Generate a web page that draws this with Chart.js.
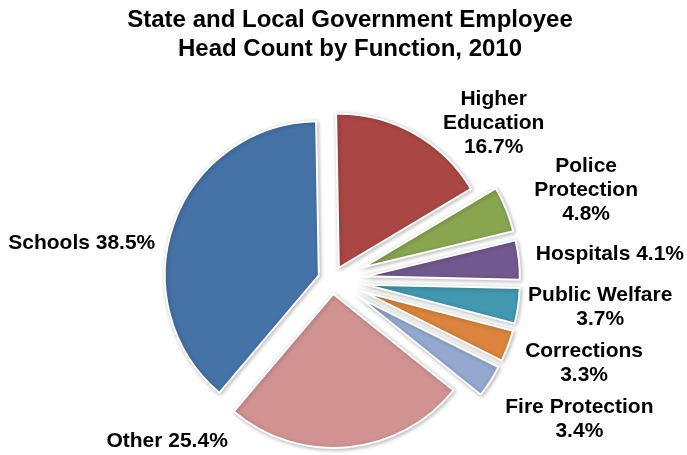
<!DOCTYPE html>
<html>
<head>
<meta charset="utf-8">
<title>State and Local Government Employee Head Count by Function, 2010</title>
<script src="https://cdn.jsdelivr.net/npm/chart.js@4.4.1/dist/chart.umd.min.js"></script>
<style>
    html, body { margin: 0; padding: 0; background: #ffffff; }
    canvas { display: block; }
</style>
</head>
<body>
<canvas id="headCountChart" width="687" height="455"></canvas>
<script>
// 数据（顺时针，从12点方向开始）
const functions = ['Higher Education', 'Police Protection', 'Hospitals', 'Public Welfare',
    'Corrections', 'Fire Protection', 'Other', 'Schools'];
const shares = [16.7, 4.8, 4.1, 3.7, 3.3, 3.4, 25.4, 38.5];
const labelLines = [['Higher', 'Education'], ['Police', 'Protection'], ['Hospitals'], ['Public Welfare'],
    ['Corrections'], ['Fire Protection'], ['Other'], ['Schools']];
const valueInline = [false, false, true, false, false, false, true, true]; // 百分比是否跟在名称同一行
const titleLines = ['State and Local Government Employee', 'Head Count by Function, 2010'];

// 样式
const sliceColors = ['#AA4643', '#89A54E', '#71588F', '#4198AF', '#DB843D', '#93A9CF', '#D19392', '#4572A7'];
const explode = [14, 34, 34, 34, 34, 34, 14, 14]; // 每块扇形向外分离的距离
const labelNudge = [[80, -12], [80, -21], [91, -7], [82, 0], [76, 16], [89, 36], [-181, -8], [-92, 18]];

const FONT = '"Liberation Sans", Arial, sans-serif';

// 扇形分离：绘制前把每个扇形沿中线方向平移，画完再还原
const explodePlugin = {
    id: 'explodeSlices',
    beforeDatasetsDraw(chart) {
        const ctx = chart.ctx;
        ctx.save();
        ctx.shadowColor = 'rgba(0, 0, 0, 0.28)'; // 淡淡的阴影
        ctx.shadowBlur = 4;
        ctx.shadowOffsetX = 1;
        ctx.shadowOffsetY = 1;
        chart.getDatasetMeta(0).data.forEach((arc, i) => {
            const mid = (arc.startAngle + arc.endAngle) / 2;
            arc._baseX = arc.x;
            arc._baseY = arc.y;
            arc.x += Math.cos(mid) * explode[i];
            arc.y += Math.sin(mid) * explode[i];
        });
    },
    afterDatasetsDraw(chart) {
        chart.ctx.restore();
        chart.getDatasetMeta(0).data.forEach(arc => {
            arc.x = arc._baseX;
            arc.y = arc._baseY;
        });
    }
};

// 标题和数据标签
const labelPlugin = {
    id: 'pieLabels',
    afterDraw(chart) {
        const ctx = chart.ctx;
        ctx.save();
        ctx.fillStyle = '#000000';
        ctx.textAlign = 'center';
        ctx.textBaseline = 'alphabetic';

        ctx.font = 'bold 24px ' + FONT;
        ctx.fillText(titleLines[0], 350, 27);
        ctx.fillText(titleLines[1], 350, 56);

        ctx.font = 'bold 21px ' + FONT;
        const lineHeight = 24;
        chart.getDatasetMeta(0).data.forEach((arc, i) => {
            const mid = (arc.startAngle + arc.endAngle) / 2;
            const r = explode[i] + arc.outerRadius;
            const ax = arc.x + Math.cos(mid) * r + labelNudge[i][0];
            const ay = arc.y + Math.sin(mid) * r + labelNudge[i][1];
            const pct = shares[i].toFixed(1) + '%';
            const lines = labelLines[i].slice();
            if (valueInline[i]) {
                lines[lines.length - 1] += ' ' + pct;
            } else {
                lines.push(pct);
            }
            const first = ay - (lines.length - 1) * lineHeight / 2 + 7.5;
            lines.forEach((t, k) => ctx.fillText(t, ax, first + k * lineHeight));
        });
        ctx.restore();
    }
};

new Chart(document.getElementById('headCountChart'), {
    type: 'pie',
    data: {
        labels: functions,
        datasets: [{
            data: shares,
            backgroundColor: sliceColors,
            borderColor: '#ffffff',
            borderWidth: 2,
            borderJoinStyle: 'miter',
            hoverOffset: 0
        }]
    },
    options: {
        responsive: false,
        animation: false,
        events: [],
        rotation: -1,
        radius: 154,
        layout: {
            padding: { left: 10, right: 33, top: 120, bottom: 15 }
        },
        plugins: {
            legend: { display: false },
            tooltip: { enabled: false },
            title: { display: false }
        }
    },
    plugins: [explodePlugin, labelPlugin]
});
</script>
</body>
</html>
